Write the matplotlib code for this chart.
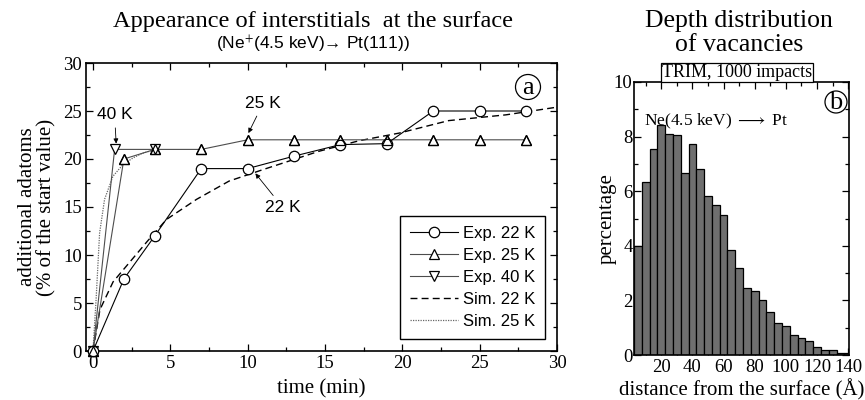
import numpy as np
import matplotlib
matplotlib.use("Agg")
import matplotlib.pyplot as plt
from matplotlib.patches import Ellipse
from matplotlib.ticker import MultipleLocator

plt.rcParams['font.family'] = ['Liberation Serif', 'DejaVu Serif']
plt.rcParams['mathtext.fontset'] = 'stix'
SANS = ['Liberation Sans', 'DejaVu Sans']

# ---- panel a : additional adatoms vs time ----
t_22 = [0, 2, 4, 7, 10, 13, 16, 19, 22, 25, 28]
exp_22 = [0, 7.5, 12, 19, 19, 20.3, 21.5, 21.6, 25, 25, 25]
t_25 = [0, 2, 4, 7, 10, 13, 16, 19, 22, 25, 28]
exp_25 = [0, 20, 21, 21, 22, 22, 22, 22, 22, 22, 22]
t_40 = [0, 1.4, 4]
exp_40 = [0, 21, 21]
t_sim22 = [0, 0.45, 1.3, 2.4, 3.5, 4.75, 6.7, 8.8, 11, 14.6, 17.2, 19.8, 23, 26.7, 30]
sim_22 = [0, 4.3, 7.2, 9.3, 11.4, 13.7, 15.8, 17.7, 18.9, 20.8, 21.9, 22.7, 24.0, 24.6, 25.4]
t_sim25 = [0, 0.2, 0.43, 0.75, 1.29, 1.93, 2.58, 3.2, 3.85, 4.0]
sim_25 = [0, 5.3, 12.3, 15.8, 18.2, 19.4, 20.1, 20.6, 20.9, 21.0]

# ---- panel b : depth distribution of vacancies ----
depth = np.arange(5, 145, 5)
percent = [4.0, 6.33, 7.54, 8.42, 8.09, 8.06, 6.65, 7.72, 6.80, 5.82, 5.48, 5.13,
           3.84, 3.19, 2.45, 2.35, 2.02, 1.58, 1.16, 1.05, 0.75, 0.61, 0.51,
           0.29, 0.17, 0.17, 0.07, 0.07]

fig = plt.figure(figsize=(8.65, 4), dpi=100)
W, H = 865.0, 400.0

def ax_rect(x0, y0, x1, y1):
    return [x0 / W, 1 - y1 / H, (x1 - x0) / W, (y1 - y0) / H]

ax = fig.add_axes(ax_rect(86, 63, 557, 351))
ax2 = fig.add_axes(ax_rect(634, 82, 849, 355))

def style_ticks(a):
    a.tick_params(which='both', direction='in', top=True, right=True, labelsize=13.5, pad=3)
    a.tick_params(which='major', length=5, width=0.9)
    a.tick_params(which='minor', length=3, width=0.9)
    for s in a.spines.values():
        s.set_linewidth(1.2)

# simulations
ax.plot(t_sim22, sim_22, color='k', lw=1.0, ls=(0, (5, 3)), label='Sim. 22 K', zorder=2)
ax.plot(t_sim25, sim_25, color='0.4', lw=0.9, ls=(0, (1, 1)), label='Sim. 25 K', zorder=2)

mk = dict(ms=7.5, mfc='white', mec='k', mew=0.9, clip_on=False)
l22, = ax.plot(t_22, exp_22, '-', color='k', lw=0.8, marker='o', label='Exp. 22 K', zorder=4, **mk)
l25, = ax.plot(t_25, exp_25, '-', color='0.3', lw=0.8, marker='^', label='Exp. 25 K', zorder=3, **mk)
l40, = ax.plot(t_40, exp_40, '-', color='0.3', lw=0.8, marker='v', label='Exp. 40 K', zorder=3, **mk)
# outline of the 25 K triangles on top so that overlapping markers form a star
ax.plot(t_25, exp_25, ls='none', marker='^', ms=7.5, mfc='none', mec='k', mew=0.9,
        clip_on=False, zorder=5)

ax.set_xlim(-0.45, 30)
ax.set_ylim(0, 30)
ax.xaxis.set_major_locator(MultipleLocator(5))
ax.xaxis.set_minor_locator(MultipleLocator(2.5))
ax.yaxis.set_major_locator(MultipleLocator(5))
ax.yaxis.set_minor_locator(MultipleLocator(2.5))
style_ticks(ax)
ax.set_xlabel('time (min)', fontsize=15, labelpad=5)
ax.set_ylabel('additional adatoms\n(% of the start value)', fontsize=15, labelpad=5,
              linespacing=1.0)

arrow = dict(arrowstyle='-|>', lw=0.6, color='k', mutation_scale=7, shrinkA=2, shrinkB=0)
ax.annotate('40 K', xy=(1.5, 21.6), xytext=(1.4, 24.6), fontsize=12.5, family=SANS,
            ha='center', va='center', arrowprops=arrow)
ax.annotate('25 K', xy=(10.05, 22.7), xytext=(11.0, 25.8), fontsize=12.5, family=SANS,
            ha='center', va='center', arrowprops=arrow)
ax.annotate('22 K', xy=(10.5, 18.5), xytext=(12.3, 14.9), fontsize=12.5, family=SANS,
            ha='center', va='center', arrowprops=arrow)

handles = [l22, l25, l40] + ax.get_lines()[:2]
leg = ax.legend(handles, [h.get_label() for h in handles], loc='lower right',
                bbox_to_anchor=(0.975, 0.042), prop={'family': SANS, 'size': 12},
                fancybox=False, edgecolor='k', framealpha=1, handlelength=2.9,
                handletextpad=0.3, labelspacing=0.42, borderpad=0.6, borderaxespad=0)
leg.get_frame().set_linewidth(1.0)

# circled panel letter
d = 25.0
ax.add_patch(Ellipse(((528 - 86) / 471.0, (351 - 87) / 288.0), d / 471.0, d / 288.0,
                     transform=ax.transAxes, fill=False, lw=0.9, ec='k'))
ax.text((528 - 86) / 471.0, (351 - 88) / 288.0, 'a', transform=ax.transAxes,
        fontsize=19, ha='center', va='center')

fig.text(313 / W, 1 - 22 / H, 'Appearance of interstitials  at the surface',
         fontsize=17.6, ha='center', va='center')
fig.text(313 / W, 1 - 44 / H, '(Ne$^{+}$(4.5 keV)\u2192 Pt(111))', fontsize=12.5,
         ha='center', va='center', family=SANS)

# ---- histogram ----
ax2.bar(depth, percent, width=5, color='#6f6f6f', edgecolor='k', lw=0.9, zorder=2)
ax2.set_xlim(2.5, 140.5)
ax2.set_ylim(0, 10)
ax2.xaxis.set_major_locator(MultipleLocator(20))
ax2.xaxis.set_minor_locator(MultipleLocator(10))
ax2.yaxis.set_major_locator(MultipleLocator(2))
ax2.yaxis.set_minor_locator(MultipleLocator(1))
style_ticks(ax2)
ax2.tick_params(axis='y', pad=1)
ax2.set_xlabel('distance from the surface (\u00c5)', fontsize=15, labelpad=2)
ax2.set_ylabel('percentage', fontsize=15, labelpad=-2)
ax2.text(0.045, 0.855, 'Ne(4.5 keV) $\\longrightarrow$ Pt', transform=ax2.transAxes,
         fontsize=12.5, ha='left', va='center')

d2 = 22.0
ax2.add_patch(Ellipse(((836 - 634) / 215.0, (355 - 102) / 273.0), d2 / 215.0, d2 / 273.0,
                      transform=ax2.transAxes, fill=False, lw=0.9, ec='k'))
ax2.text((836 - 634) / 215.0, (355 - 103) / 273.0, 'b', transform=ax2.transAxes,
         fontsize=19, ha='center', va='center')

fig.text(739 / W, 1 - 21 / H, 'Depth distribution', fontsize=18.5, ha='center', va='center')
fig.text(739 / W, 1 - 45 / H, 'of vacancies', fontsize=18.5, ha='center', va='center')
fig.text(737 / W, 1 - 72.5 / H, 'TRIM, 1000 impacts', fontsize=13, ha='center', va='center',
         bbox=dict(boxstyle='square,pad=0.06', fc='white', ec='k', lw=0.9))

fig.savefig('out.png', dpi=100)
